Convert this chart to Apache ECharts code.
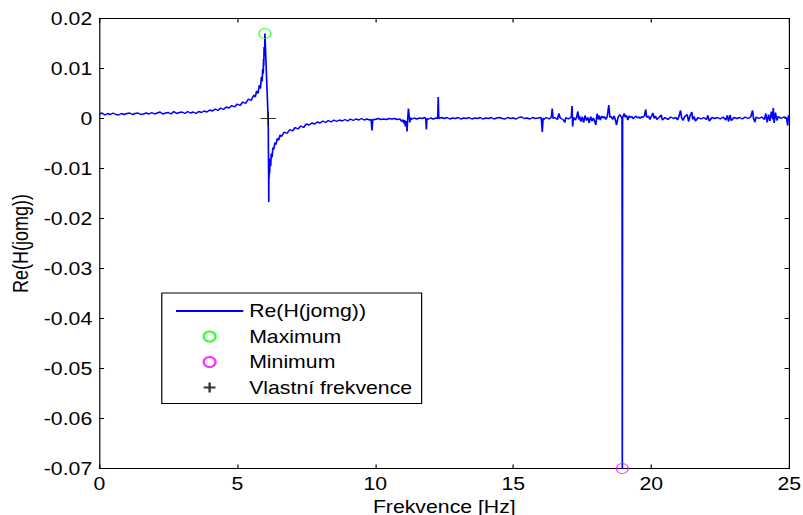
<!DOCTYPE html>
<html>
<head>
<meta charset="utf-8">
<script src="https://cdn.jsdelivr.net/npm/echarts@6/dist/echarts.min.js"></script>
<style>
html,body{margin:0;padding:0;background:#fff;overflow:hidden;}
#wrap{width:803px;height:515px;overflow:hidden;position:relative;}
#c{width:680px;height:515px;transform:scaleX(1.180882);transform-origin:0 0;}
</style>
</head>
<body>
<div id="wrap"><div id="c"></div></div>
<script>
// Frequency samples [Hz]
const freq = [
 0.0,0.1,0.2,0.3,0.4,0.5,0.6,0.7,0.8,0.9,
 1.0,1.1,1.2,1.3,1.4,1.5,1.6,1.7,1.8,1.9,
 2.0,2.1,2.2,2.3,2.4,2.5,2.6,2.7,2.8,2.9,
 3.0,3.1,3.2,3.3,3.4,3.5,3.6,3.7,3.8,3.9,
 4.0,4.1,4.2,4.3,4.4,4.5,4.6,4.7,4.8,4.9,
 5.0,5.1,5.2,5.3,5.4,5.5,5.6,5.65,5.7,5.75,
 5.8,5.84,5.87,5.9,5.92,5.94,5.95,5.96,5.97,5.98,
 5.99,6.0,6.12,6.13,6.135,6.14,6.145,6.15,6.16,6.17,
 6.19,6.21,6.23,6.26,6.29,6.32,6.36,6.4,6.45,6.5,
 6.55,6.6,6.7,6.8,6.9,7.0,7.1,7.2,7.3,7.4,
 7.5,7.6,7.7,7.8,7.9,8.0,8.1,8.2,8.3,8.4,
 8.5,8.6,8.7,8.8,8.9,9.0,9.1,9.2,9.3,9.4,
 9.5,9.6,9.7,9.8,9.85,9.88,9.91,10.0,10.1,10.2,
 10.3,10.4,10.5,10.6,10.7,10.8,10.9,10.95,11.0,11.03,
 11.06,11.09,11.12,11.15,11.17,11.2,11.22,11.25,11.28,11.3,
 11.4,11.5,11.6,11.7,11.8,11.83,11.85,11.87,11.9,12.0,
 12.1,12.2,12.26,12.28,12.3,12.4,12.5,12.6,12.7,12.8,
 12.9,13.0,13.1,13.2,13.3,13.4,13.5,13.6,13.7,13.8,
 13.9,14.0,14.1,14.2,14.3,14.4,14.5,14.6,14.7,14.8,
 14.9,15.0,15.1,15.2,15.3,15.4,15.5,15.6,15.7,15.8,
 15.9,16.0,16.02,16.05,16.08,16.1,16.2,16.3,16.38,16.41,
 16.44,16.5,16.6,16.65,16.7,16.8,16.87,16.9,17.0,17.1,
 17.13,17.15,17.18,17.25,17.3,17.34,17.37,17.4,17.45,17.5,
 17.55,17.6,17.65,17.7,17.75,17.8,17.85,17.9,17.95,17.99,
 18.02,18.04,18.07,18.1,18.15,18.2,18.25,18.3,18.35,18.4,
 18.46,18.5,18.55,18.6,18.65,18.7,18.74,18.8,18.86,18.94,
 18.95,18.96,19.02,19.05,19.1,19.15,19.2,19.25,19.3,19.35,
 19.4,19.45,19.5,19.55,19.6,19.65,19.7,19.75,19.8,19.83,
 19.9,19.95,20.0,20.06,20.1,20.15,20.2,20.3,20.36,20.4,
 20.5,20.6,20.7,20.8,20.9,20.95,21.0,21.06,21.1,21.15,
 21.2,21.3,21.35,21.4,21.47,21.5,21.55,21.6,21.7,21.8,
 21.9,22.0,22.05,22.1,22.2,22.3,22.4,22.5,22.6,22.7,
 22.75,22.8,22.85,22.9,23.0,23.1,23.2,23.3,23.4,23.5,
 23.6,23.67,23.7,23.75,23.8,23.9,24.0,24.1,24.15,24.2,
 24.25,24.3,24.35,24.4,24.42,24.45,24.5,24.55,24.6,24.7,
 24.8,24.9,24.94,24.97,25.0
];

// Re(H(jomg)) values
const reH = [
 0.0009,0.0011,0.0007,0.0010,0.0008,0.0011,0.0008,0.0007,0.0010,0.0008,
 0.0010,0.0011,0.0008,0.0010,0.0011,0.0008,0.0009,0.0011,0.0009,0.0012,
 0.0009,0.0011,0.0013,0.0009,0.0011,0.0012,0.0009,0.0014,0.0010,0.0012,
 0.0013,0.0010,0.0014,0.0011,0.0013,0.0010,0.0014,0.0012,0.0015,0.0013,
 0.0017,0.0015,0.0019,0.0016,0.0021,0.0018,0.0023,0.0021,0.0026,0.0023,
 0.0029,0.0026,0.0033,0.0030,0.0039,0.0036,0.0047,0.0043,0.0055,0.0050,
 0.0067,0.0060,0.0083,0.0074,0.0099,0.0090,0.0119,0.0106,0.0143,0.0124,
 0.0130,0.0170,-0.0005,-0.0083,-0.0115,-0.0167,-0.0095,-0.0120,-0.0090,-0.0110,
 -0.0080,-0.0095,-0.0070,-0.0078,-0.0058,-0.0062,-0.0048,-0.0052,-0.0040,-0.0043,
 -0.0033,-0.0036,-0.0027,-0.0030,-0.0022,-0.0025,-0.0018,-0.0021,-0.0015,-0.0018,
 -0.0011,-0.0013,-0.0009,-0.0011,-0.0007,-0.0009,-0.0005,-0.0008,-0.0004,-0.0007,
 -0.0003,-0.0006,-0.0003,-0.0005,-0.0002,-0.0005,-0.0001,-0.0004,-0.0001,-0.0003,
 0.0000,-0.0003,-0.0001,-0.0003,-0.0002,-0.0024,-0.0002,-0.0002,0.0000,-0.0002,
 -0.0001,-0.0002,0.0000,-0.0001,0.0000,-0.0002,-0.0001,-0.0006,-0.0002,-0.0010,
 -0.0003,-0.0016,-0.0005,-0.0026,-0.0004,0.0020,0.0010,-0.0008,0.0002,-0.0002,
 0.0001,-0.0001,0.0001,0.0000,0.0002,-0.0001,-0.0022,0.0000,-0.0002,0.0001,
 -0.0001,0.0001,0.0000,0.0043,0.0000,0.0002,0.0000,0.0002,-0.0001,0.0001,
 0.0000,0.0002,-0.0001,0.0001,0.0000,0.0002,-0.0001,0.0001,0.0000,0.0002,
 -0.0001,0.0001,0.0000,0.0002,-0.0001,0.0001,0.0002,0.0000,-0.0001,0.0002,
 0.0000,0.0001,-0.0001,0.0002,0.0003,0.0000,0.0001,-0.0001,0.0002,0.0000,
 0.0001,0.0002,-0.0003,-0.0027,0.0001,-0.0002,0.0002,-0.0001,0.0003,0.0020,
 0.0000,0.0002,-0.0002,0.0010,0.0001,-0.0002,-0.0008,0.0002,-0.0001,0.0003,
 0.0025,-0.0016,0.0002,-0.0003,0.0004,0.0014,-0.0002,0.0005,-0.0006,0.0003,
 -0.0008,0.0006,-0.0004,0.0002,-0.0009,0.0004,-0.0005,0.0001,-0.0006,-0.0013,
 0.0003,0.0010,-0.0002,0.0006,-0.0003,0.0005,0.0001,0.0004,-0.0002,0.0003,
 0.0027,0.0002,0.0004,-0.0002,0.0005,-0.0003,-0.0013,0.0003,0.0008,0.0000,
 -0.0700,0.0002,0.0010,0.0003,0.0006,-0.0003,0.0005,0.0002,0.0004,-0.0001,
 0.0003,0.0005,0.0001,0.0003,0.0000,0.0004,0.0002,0.0006,0.0018,0.0002,
 0.0005,-0.0002,0.0004,0.0011,0.0000,0.0005,-0.0002,0.0003,0.0007,-0.0003,
 0.0002,-0.0002,0.0003,0.0000,0.0002,-0.0003,0.0004,0.0016,0.0001,-0.0004,
 0.0003,0.0008,-0.0006,0.0005,0.0013,-0.0002,0.0004,-0.0005,0.0002,-0.0001,
 0.0002,-0.0002,0.0006,-0.0005,0.0002,0.0000,0.0002,-0.0001,0.0003,-0.0003,
 0.0006,-0.0006,0.0007,-0.0004,0.0002,0.0000,0.0002,-0.0001,0.0003,0.0000,
 0.0003,0.0016,0.0001,-0.0007,0.0003,0.0000,0.0003,-0.0002,0.0010,-0.0008,
 0.0008,-0.0005,0.0014,-0.0002,0.0021,-0.0009,0.0012,-0.0004,0.0004,0.0000,
 0.0003,0.0001,-0.0014,0.0006,0.0000
];

const maxPoint = [6.0, 0.017];
const minPoint = [18.95, -0.07];
const natFreqPoint = [6.12, 0];

const xTickValues = [0, 5, 10, 15, 20, 25];
const xTickLabels = ['0', '5', '10', '15', '20', '25'];
const yTickValues = [-0.07, -0.06, -0.05, -0.04, -0.03, -0.02, -0.01, 0, 0.01, 0.02];
const yTickLabels = ['-0.07', '-0.06', '-0.05', '-0.04', '-0.03', '-0.02', '-0.01', '0', '0.01', '0.02'];

const seriesNames = ['Re(H(jomg))', 'Maximum', 'Minimum', 'Vlastní frekvence'];
const xName = 'Frekvence [Hz]';
const yName = 'Re(H(jomg))';

const FONT = "'Liberation Sans', Arial, sans-serif";
const lineData = freq.map((f, i) => [f, reH[i]]);

function labelFor(vals, labels) {
  return function (v) {
    const i = vals.findIndex(t => Math.abs(t - v) < 1e-7);
    return i >= 0 ? labels[i] : '';
  };
}

const axisLine = { show: true, onZero: false, lineStyle: { color: '#000', width: 1 } };
const axisTick = { show: true, inside: true, length: 4, lineStyle: { color: '#000', width: 1 } };

const chart = echarts.init(document.getElementById('c'), null, { renderer: 'svg' });
chart.setOption({
  animation: false,
  backgroundColor: '#fff',
  grid: { left: 84.1, right: 11.6, top: 18.5, bottom: 46.5, containLabel: false, outerBoundsMode: 'none' },
  xAxis: [
    {
      type: 'value', min: 0, max: 25, interval: 5, position: 'bottom',
      axisLine: axisLine, axisTick: axisTick, splitLine: { show: false },
      axisLabel: { color: '#000', fontSize: 18, fontFamily: FONT, margin: 6,
        formatter: labelFor(xTickValues, xTickLabels) },
      name: xName, nameLocation: 'middle', nameGap: 28,
      nameTextStyle: { color: '#000', fontSize: 18, fontFamily: FONT }
    },
    {
      type: 'value', min: 0, max: 25, interval: 5, position: 'top',
      axisLine: axisLine, axisTick: axisTick, splitLine: { show: false },
      axisLabel: { show: false }
    }
  ],
  yAxis: [
    {
      type: 'value', min: -0.07, max: 0.02, interval: 0.01, position: 'left',
      axisLine: axisLine, axisTick: axisTick, splitLine: { show: false },
      axisLabel: { color: '#000', fontSize: 18, fontFamily: FONT, margin: 6,
        formatter: labelFor(yTickValues, yTickLabels) },
      name: yName, nameLocation: 'middle', nameGap: 55, nameRotate: 90,
      nameTextStyle: { color: '#000', fontSize: 18, fontFamily: FONT }
    },
    {
      type: 'value', min: -0.07, max: 0.02, interval: 0.01, position: 'right',
      axisLine: axisLine, axisTick: axisTick, splitLine: { show: false },
      axisLabel: { show: false }
    }
  ],
  legend: {
    orient: 'vertical', left: 137, top: 293, padding: [9, 8, 7, 11],
    itemWidth: 57, itemHeight: 10, itemGap: 7.5,
    borderColor: '#000', borderWidth: 1, backgroundColor: '#fff',
    selectedMode: false,
    textStyle: { color: '#000', fontSize: 18, fontFamily: FONT, lineHeight: 18 },
    data: [
      { name: seriesNames[0], itemStyle: { opacity: 0 } },
      seriesNames[1], seriesNames[2], seriesNames[3]
    ]
  },
  series: [
    {
      name: seriesNames[0], type: 'line', data: lineData,
      symbol: 'none', showSymbol: false, sampling: null,
      lineStyle: { color: '#0000ff', width: 1.4 }, itemStyle: { color: '#0000ff' },
      z: 2
    },
    {
      name: seriesNames[1], type: 'scatter', data: [maxPoint],
      symbol: 'circle', symbolSize: 10,
      itemStyle: { color: 'transparent', borderColor: '#00ff00', borderWidth: 1 },
      z: 3
    },
    {
      name: seriesNames[2], type: 'scatter', data: [minPoint],
      symbol: 'circle', symbolSize: 10,
      itemStyle: { color: 'transparent', borderColor: '#ff00ff', borderWidth: 1 },
      z: 3
    },
    {
      name: seriesNames[3], type: 'scatter', data: [natFreqPoint],
      symbol: 'path://M0 5L10 5M5 0L5 10', symbolSize: [13, 13],
      itemStyle: { color: 'transparent', borderColor: '#000', borderWidth: 1 },
      z: 3
    }
  ]
});
</script>
</body>
</html>
